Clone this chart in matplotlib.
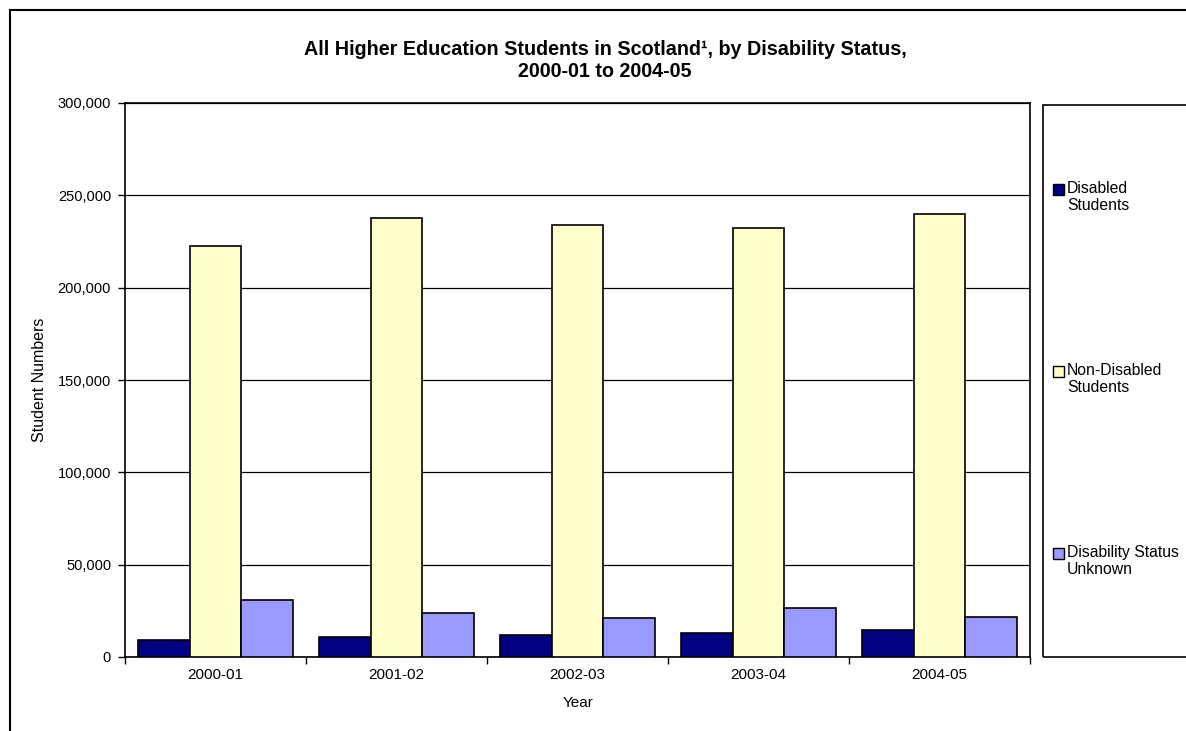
import matplotlib
matplotlib.use("Agg")
import matplotlib.pyplot as plt
import numpy as np
from matplotlib.patches import Rectangle
from matplotlib.lines import Line2D
from matplotlib.ticker import FuncFormatter, MultipleLocator

plt.rcParams['font.family'] = ['Liberation Sans', 'DejaVu Sans']

years = ["2000-01", "2001-02", "2002-03", "2003-04", "2004-05"]
disabled = [9000, 11000, 11700, 13200, 14800]
non_disabled = [222700, 237900, 234100, 232300, 240100]
unknown = [31000, 23700, 20900, 26300, 21600]

labels = ["Disabled\nStudents", "Non-Disabled\nStudents", "Disability Status\nUnknown"]
colors = ["#000080", "#FFFFCC", "#9999FF"]
series = [disabled, non_disabled, unknown]

W, H = 1186, 731
fig = plt.figure(figsize=(W / 100, H / 100), dpi=100)

def fx(px):
    return px / W

def fy(py):
    return 1 - py / H

# plot area: 125..1030 x 103..657 px
ax = fig.add_axes([fx(125), fy(657), fx(1030 - 125), (657 - 103) / H])

x = np.arange(len(years))
bw = 1 / 3.5
for i, vals in enumerate(series):
    ax.bar(x + (i - 1) * bw, vals, width=bw, color=colors[i], edgecolor="black",
           linewidth=1.2, zorder=3)

ax.set_xlim(-0.5, len(years) - 0.5)
ax.set_ylim(0, 300000)
ax.yaxis.set_major_locator(MultipleLocator(50000))
ax.yaxis.set_major_formatter(FuncFormatter(lambda v, p: "0" if v == 0 else f"{int(v):,}"))
ax.grid(axis="y", color="black", linewidth=0.9, zorder=0)

ax.set_xticks(x)
ax.set_xticklabels(years, fontsize=11)
ax.set_xticks(np.arange(len(years) + 1) - 0.5, minor=True)
ax.tick_params(axis="x", which="major", length=0, pad=8)
ax.tick_params(axis="x", which="minor", length=5, width=1, direction="out")
ax.tick_params(axis="y", length=5, width=1, direction="out", labelsize=10.5, pad=5)
for s in ax.spines.values():
    s.set_linewidth(1.2)

fig.text(fx(578), fy(703), "Year", ha="center", va="center", fontsize=11)
fig.text(fx(39), fy(380), "Student Numbers", ha="center", va="center",
         rotation=90, fontsize=11.5)

# title, centred on the chart area, sized to match the reference width
t1 = fig.text(fx(605), fy(55), "All Higher Education Students in Scotland¹, by Disability Status,",
              ha="center", va="baseline", fontsize=12, fontweight="bold")
fig.canvas.draw()
w1 = t1.get_window_extent().width
fs = 12 * 600 / w1
t1.set_fontsize(fs)
fig.text(fx(605), fy(77), "2000-01 to 2004-05", ha="center", va="baseline",
         fontsize=fs, fontweight="bold")

# outer chart border (runs off the right and bottom edges)
fig.add_artist(Line2D([fx(10), fx(10)], [0, fy(10)], color="black", linewidth=1.5,
                      transform=fig.transFigure))
fig.add_artist(Line2D([fx(10), 1], [fy(10), fy(10)], color="black", linewidth=1.5,
                      transform=fig.transFigure))

# legend box
fig.add_artist(Rectangle((fx(1043), fy(657)), fx(W - 1043 + 20), (657 - 105) / H,
                         transform=fig.transFigure, fill=False, edgecolor="black",
                         linewidth=1.2))
for i, lab in enumerate(labels):
    top = 184 + i * 182
    fig.add_artist(Rectangle((fx(1053), fy(top + 10.5)), fx(11), 11 / H,
                             transform=fig.transFigure, facecolor=colors[i],
                             edgecolor="black", linewidth=1))
    fig.text(fx(1067), fy(top - 3), lab, ha="left", va="top", fontsize=11.3,
             linespacing=1.2)

fig.savefig("out.png", dpi=100)
